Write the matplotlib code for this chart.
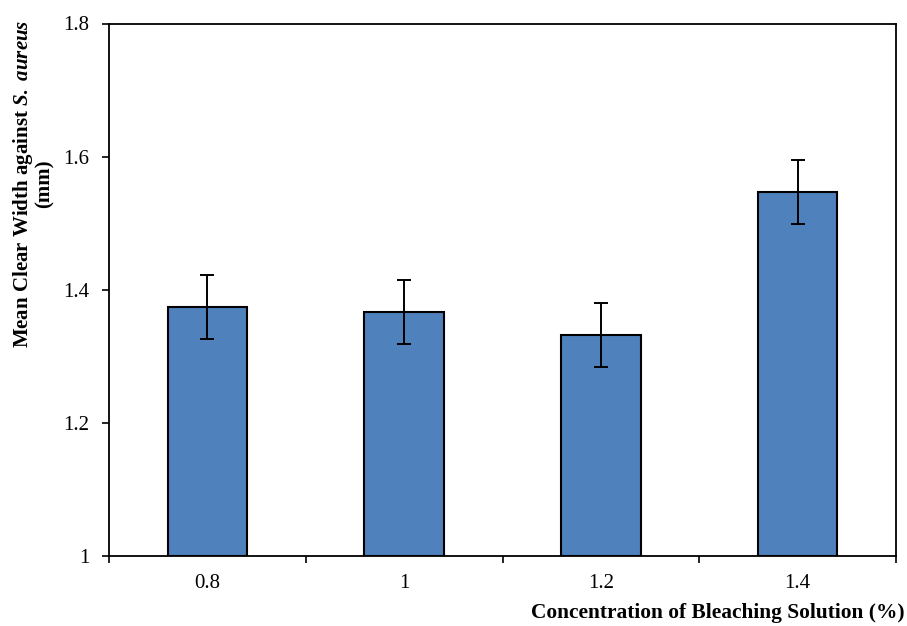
import matplotlib
matplotlib.use("Agg")
import matplotlib.pyplot as plt
import numpy as np

# Concentration of bleaching solution (%) and mean clear width (mm)
concentrations = ["0.8", "1", "1.2", "1.4"]
mean_width = [1.374, 1.366, 1.332, 1.547]
std_err = [0.048, 0.048, 0.048, 0.048]
y_ticks = [1.0, 1.2, 1.4, 1.6, 1.8]
y_tick_labels = ["1", "1.2", "1.4", "1.6", "1.8"]

plt.rcParams["font.family"] = "Liberation Serif"
plt.rcParams["mathtext.fontset"] = "custom"
plt.rcParams["mathtext.rm"] = "Liberation Serif:bold"
plt.rcParams["mathtext.bf"] = "Liberation Serif:bold"
plt.rcParams["mathtext.bfit"] = "Liberation Serif:italic:bold"
plt.rcParams["mathtext.it"] = "Liberation Serif:italic:bold"

fig = plt.figure(figsize=(9.07, 6.26), dpi=100)
ax = fig.add_axes([109 / 907, 1 - 556 / 626, (896 - 109) / 907, (556 - 23.5) / 626])

x = np.arange(len(concentrations))
ax.bar(x, [m - 1.0 for m in mean_width], bottom=1.0, width=0.405,
       color="#4F81BD", edgecolor="black", linewidth=1.5, zorder=2)
ax.errorbar(x, mean_width, yerr=std_err, fmt="none", ecolor="black",
            elinewidth=1.4, capsize=5, capthick=1.4, zorder=3)

ax.set_xlim(-0.5, len(concentrations) - 0.5)
ax.set_ylim(1.0, 1.8)
ax.set_yticks(y_ticks)
ax.set_yticklabels(y_tick_labels, fontsize=15)

# Tick marks sit on category boundaries, labels at category centres
ax.set_xticks(np.arange(-0.5, len(concentrations), 1.0))
ax.set_xticklabels([])
ax.set_xticks(x, minor=True)
ax.set_xticklabels(concentrations, minor=True, fontsize=15)
ax.tick_params(axis="x", which="major", direction="out", length=5, width=1.2)
ax.tick_params(axis="x", which="minor", length=0, pad=13)
ax.tick_params(axis="y", direction="out", length=5, width=1.2, pad=9)

for s in ax.spines.values():
    s.set_linewidth(1.3)

fig.text(905 / 907, 1 - 613 / 626, "Concentration of Bleaching Solution (%)",
         ha="right", va="center", fontsize=15.4, fontweight="bold")
fig.text(33 / 907, 1 - 184 / 626,
         "Mean Clear Width against $\\mathit{S.\\ aureus}$\n(mm)",
         rotation=90, ha="center", va="center", multialignment="center",
         fontsize=15, fontweight="bold", linespacing=0.95)

fig.savefig("out.png", dpi=100)
